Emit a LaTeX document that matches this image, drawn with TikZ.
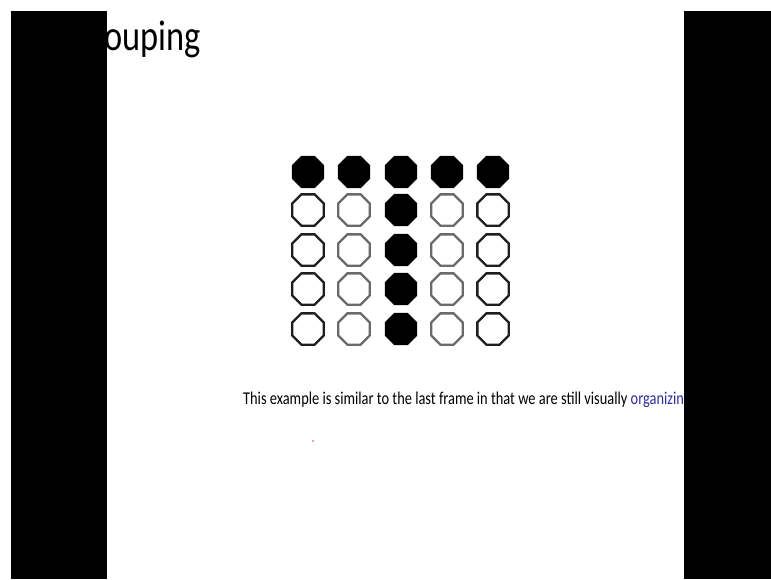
\documentclass[tikz,border=0pt]{standalone}
\usepackage{fontspec}
\setmainfont{Carlito}
\usetikzlibrary{shapes.geometric}
\definecolor{linkc}{HTML}{2E2E9A}
\definecolor{ringA}{HTML}{1E1E1E}
\definecolor{ringB}{HTML}{6A6A6A}
\definecolor{specc}{HTML}{E8A0B8}
\tikzset{
  dot/.style={regular polygon, regular polygon sides=8, minimum size=34pt,
    inner sep=0pt, line width=2.4pt},
  dotfull/.style={dot, fill=black, draw=black, line width=1pt},
  bar/.style={fill=black, draw=none}
}

\begin{document}
\begin{tikzpicture}[x=1pt,y=-1pt]
    \useasboundingbox (0,0) rectangle (771,579);
    \fill[white] (0,0) rectangle (771,579);
    % heading and caption
    \node[anchor=base east, inner sep=0pt, xscale=0.8, font=\fontsize{43}{48}\selectfont]
      (title) at (201,50) {Grouping};
    \node[anchor=base west, inner sep=0pt, xscale=0.8, font=\fontsize{18}{20}\selectfont]
      (caption) at (243,404) {This example is similar to the last frame in that we are still
      visually \textcolor{linkc}{organizing}};
    % 5 x 5 grid of dots
    \foreach \r/\y in {1/172, 2/210, 3/250, 4/289, 5/329}{
      \foreach \c/\x/\ring in {1/308/ringA, 2/354/ringB, 3/401/ringA, 4/447/ringB, 5/493/ringA}{
        \ifnum\r=1 \node[dotfull] (d-\r-\c) at (\x,\y){};
        \else\ifnum\c=3 \node[dotfull] (d-\r-\c) at (\x,\y){};
        \else \node[dot, draw=\ring] (d-\r-\c) at (\x,\y){};
        \fi\fi}}
    \fill[specc] (312,440) rectangle (314,442);
    % side bars
    \fill[bar] (11,11) rectangle (107,579);
    \fill[bar] (684,11) rectangle (771,579);
  \end{tikzpicture}
\end{document}
